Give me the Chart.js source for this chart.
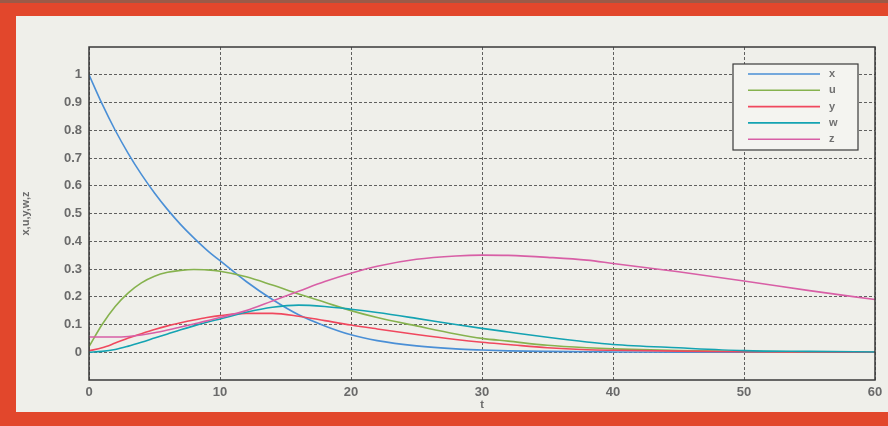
<!DOCTYPE html>
<html>
<head>
<meta charset="utf-8">
<script src="https://cdn.jsdelivr.net/npm/chart.js@4.4.0/dist/chart.umd.min.js"></script>
<style>
  html, body { margin: 0; padding: 0; }
  body { width: 888px; height: 426px; background: #e2472c; position: relative; overflow: hidden; }
  #topedge { position: absolute; left: 0; top: 0; width: 888px; height: 3px; background: #9a5a48; }
  #panel { position: absolute; left: 16px; top: 16px; width: 872px; height: 396px; background: #efefea; }
  canvas { display: block; }
</style>
</head>
<body>
<div id="topedge"></div>
<div id="panel"><canvas id="c" width="872" height="396"></canvas></div>
<script>
// ---- data ----
const tValues = [0,1,2,3,4,5,6,7,8,9,10,12,14,16,18,20,22,25,28,30,32,35,38,40,45,50,55,60];
const xSeries = [1.0,0.895,0.8,0.716,0.641,0.574,0.514,0.46,0.412,0.368,0.33,0.255,0.19,0.135,0.095,0.063,0.042,0.023,0.012,0.008,0.005,0.003,0.002,0.001,0,0,0,0];
const uSeries = [0.02,0.1,0.165,0.214,0.25,0.274,0.288,0.295,0.298,0.297,0.292,0.272,0.242,0.21,0.18,0.15,0.125,0.095,0.066,0.05,0.04,0.025,0.016,0.012,0.006,0.003,0.001,0];
const ySeries = [0.005,0.016,0.033,0.051,0.067,0.082,0.095,0.106,0.116,0.125,0.132,0.14,0.14,0.13,0.114,0.098,0.084,0.064,0.046,0.036,0.028,0.016,0.009,0.007,0.004,0.002,0.001,0];
const wSeries = [0,0.003,0.01,0.022,0.036,0.051,0.066,0.081,0.095,0.108,0.12,0.144,0.162,0.17,0.165,0.155,0.143,0.122,0.1,0.086,0.073,0.054,0.037,0.028,0.016,0.006,0.003,0.001];
const zSeries = [0.055,0.055,0.055,0.057,0.062,0.07,0.08,0.091,0.102,0.113,0.125,0.15,0.185,0.22,0.255,0.285,0.31,0.335,0.347,0.35,0.349,0.342,0.332,0.32,0.29,0.257,0.222,0.19];
const seriesNames = ['x','u','y','w','z'];
const xTicks = [0,10,20,30,40,50,60];
const yTicks = [0,0.1,0.2,0.3,0.4,0.5,0.6,0.7,0.8,0.9,1];
const xAxisTitle = 't';
const yAxisTitle = 'x,u,y,w,z';

const colors = ['#4a8fd6','#86b24e','#f0485e','#14a3b2','#d85fa6'];
const allSeries = [xSeries,uSeries,ySeries,wSeries,zSeries];

const datasets = allSeries.map((s, i) => ({
  label: seriesNames[i],
  data: tValues.map((t, k) => ({x: t, y: s[k]})),
  borderColor: colors[i],
  backgroundColor: colors[i],
  borderWidth: 1.6,
  pointRadius: 0,
  cubicInterpolationMode: 'monotone',
  fill: false,
  order: 5 - i
}));

const gridStyle = {
  color: 'rgba(70,70,70,0.85)',
  lineWidth: 1,
  drawTicks: false
};

const boxLegend = {
  id: 'boxLegend',
  afterDraw(chart) {
    const ctx = chart.ctx;
    const a = chart.chartArea;
    ctx.save();
    ctx.strokeStyle = '#3a3a3a';
    ctx.lineWidth = 1.5;
    ctx.strokeRect(a.left, a.top, a.right - a.left, a.bottom - a.top);
    const bw = 125, bh = 86;
    const bx = a.right - 142, by = a.top + 17;
    ctx.fillStyle = '#f4f4f0';
    ctx.fillRect(bx, by, bw, bh);
    ctx.strokeStyle = '#3a3a3a';
    ctx.lineWidth = 1.2;
    ctx.strokeRect(bx, by, bw, bh);
    ctx.font = 'bold 11px "Liberation Sans", Arial, sans-serif';
    ctx.textBaseline = 'middle';
    chart.data.datasets.forEach((ds, i) => {
      const ly = by + 10 + i * 16.3;
      ctx.strokeStyle = ds.borderColor;
      ctx.lineWidth = 1.6;
      ctx.beginPath();
      ctx.moveTo(bx + 15, ly);
      ctx.lineTo(bx + 87, ly);
      ctx.stroke();
      ctx.fillStyle = '#707070';
      ctx.fillText(ds.label, bx + 96, ly);
    });
    ctx.restore();
  }
};

new Chart(document.getElementById('c'), {
  type: 'line',
  data: { datasets },
  options: {
    responsive: false,
    animation: false,
    layout: { padding: { top: 31, right: 13, left: 0, bottom: 0 } },
    plugins: { legend: { display: false }, tooltip: { enabled: false } },
    scales: {
      x: {
        type: 'linear',
        min: 0, max: 60,
        afterBuildTicks: (s) => { s.ticks = xTicks.map(v => ({value: v})); },
        afterFit: (s) => { s.height = 32; },
        grid: gridStyle,
        border: { display: false, dash: [3,2] },
        ticks: {
          padding: 5,
          color: '#6a6a6a',
          font: { family: '"Liberation Sans", Arial, sans-serif', size: 13, weight: 'bold' },
          maxRotation: 0,
          callback: (v) => String(v)
        },
        title: {
          display: true, text: xAxisTitle, padding: 0,
          color: '#6a6a6a',
          font: { family: '"Liberation Sans", Arial, sans-serif', size: 11, weight: 'bold' }
        }
      },
      y: {
        type: 'linear',
        min: -0.1, max: 1.1,
        afterBuildTicks: (s) => { s.ticks = yTicks.map(v => ({value: v})); },
        afterFit: (s) => { s.width = 73; },
        grid: gridStyle,
        border: { display: false, dash: [3,2] },
        ticks: {
          padding: 7,
          color: '#6a6a6a',
          font: { family: '"Liberation Sans", Arial, sans-serif', size: 13, weight: 'bold' },
          callback: (v) => String(Math.round(v * 10) / 10)
        },
        title: {
          display: true, text: yAxisTitle, padding: { top: 3, bottom: 0 },
          color: '#6a6a6a',
          font: { family: '"Liberation Sans", Arial, sans-serif', size: 11, weight: 'bold' }
        }
      }
    }
  },
  plugins: [boxLegend]
});
</script>
</body>
</html>
